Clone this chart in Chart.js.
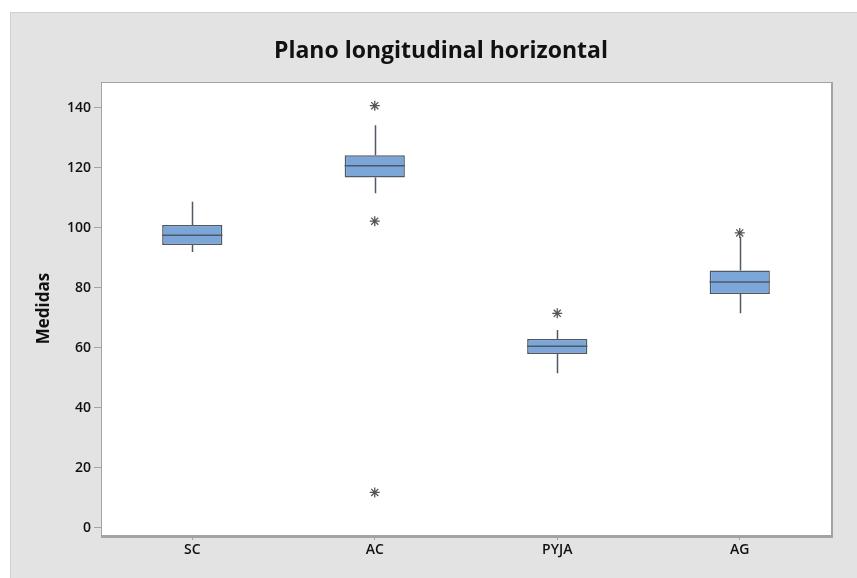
<!DOCTYPE html>
<html>
<head>
<meta charset="utf-8">
<script src="https://cdn.jsdelivr.net/npm/chart.js@4.4.1/dist/chart.umd.min.js"></script>
<style>
  body { margin: 0; background: #fff; }
  #wrap { position: absolute; left: 10px; top: 12px; width: 847px; height: 566px; }
</style>
</head>
<body>
<div id="wrap"><canvas id="boxChart" width="847" height="566"></canvas></div>
<script>
// datos
const categories = ['SC', 'AC', 'PYJA', 'AG'];
const q1 = [94.3, 116.8, 57.9, 77.9];
const median = [97.5, 120.7, 60.5, 81.9];
const q3 = [100.9, 124.2, 62.9, 85.8];
const whiskerLow = [91.9, 111.5, 51.5, 71.5];
const whiskerHigh = [108.7, 134.2, 65.9, 97.0];
const outlierCats = ['AC', 'AC', 'AC', 'PYJA', 'AG'];
const outlierValues = [140.7, 102.2, 11.8, 71.5, 98.3];
const yTicks = [0, 20, 40, 60, 80, 100, 120, 140];

const lineColor = '#4f5963';
const frameColor = '#a3a3a3';
const fuente = "'Open Sans', 'Noto Sans', sans-serif";

// fondo gris y marco del area de datos
const fondo = {
    id: 'fondo',
    beforeDraw(chart) {
        const ctx = chart.ctx;
        const a = chart.chartArea;
        ctx.save();
        ctx.fillStyle = '#e3e3e3';
        ctx.fillRect(0, 0, chart.width, chart.height);
        ctx.fillStyle = '#d0d0d0';
        ctx.fillRect(0, 0, chart.width, 1);
        ctx.fillRect(0, 0, 1, chart.height);
        ctx.fillStyle = '#ffffff';
        ctx.fillRect(a.left, a.top, a.right - a.left, a.bottom - a.top);
        ctx.strokeStyle = frameColor;
        ctx.lineWidth = 1;
        ctx.strokeRect(a.left + 0.5, a.top + 0.5, a.right - a.left, a.bottom - a.top);
        ctx.lineWidth = 2;
        ctx.beginPath();
        ctx.moveTo(a.right + 1, a.top);
        ctx.lineTo(a.right + 1, a.bottom + 2);
        ctx.lineTo(a.left, a.bottom + 2);
        ctx.stroke();
        ctx.restore();
    }
};

// bigotes (detras de la caja) y mediana (encima)
const bigotes = {
    id: 'bigotes',
    beforeDatasetsDraw(chart) {
        const ctx = chart.ctx;
        const x = chart.scales.x, y = chart.scales.y;
        ctx.save();
        ctx.strokeStyle = lineColor;
        ctx.lineWidth = 1.5;
        categories.forEach((c, i) => {
            const px = Math.round(x.getPixelForValue(i)) + 0.5;
            ctx.beginPath();
            ctx.moveTo(px, y.getPixelForValue(whiskerHigh[i]));
            ctx.lineTo(px, y.getPixelForValue(q3[i]));
            ctx.moveTo(px, y.getPixelForValue(q1[i]));
            ctx.lineTo(px, y.getPixelForValue(whiskerLow[i]));
            ctx.stroke();
        });
        ctx.restore();
    },
    afterDatasetsDraw(chart) {
        const ctx = chart.ctx;
        const y = chart.scales.y;
        const meta = chart.getDatasetMeta(0);
        ctx.save();
        ctx.strokeStyle = lineColor;
        ctx.lineWidth = 1.5;
        meta.data.forEach((bar, i) => {
            const py = y.getPixelForValue(median[i]);
            ctx.beginPath();
            ctx.moveTo(bar.x - bar.width / 2, py);
            ctx.lineTo(bar.x + bar.width / 2, py);
            ctx.stroke();
        });
        ctx.restore();
    }
};

const tickFont = { family: fuente, size: 14, weight: '600' };

new Chart(document.getElementById('boxChart'), {
    type: 'bar',
    data: {
        labels: categories,
        datasets: [{
            label: 'Caja',
            data: categories.map((c, i) => [q1[i], q3[i]]),
            backgroundColor: '#7ba6da',
            borderColor: lineColor,
            borderWidth: 1.5,
            borderSkipped: false,
            categoryPercentage: 1,
            barPercentage: 0.33,
            order: 2
        }, {
            type: 'line',
            label: 'Atipicos',
            data: outlierCats.map((c, i) => ({ x: c, y: outlierValues[i] })),
            showLine: false,
            pointStyle: 'star',
            pointRadius: 5,
            borderColor: '#555555',
            backgroundColor: '#555555',
            pointBorderWidth: 1.3,
            order: 1
        }]
    },
    options: {
        responsive: false,
        animation: false,
        layout: { padding: { left: 15, right: 0, top: 0, bottom: 0 } },
        plugins: {
            legend: { display: false },
            tooltip: { enabled: false },
            title: {
                display: true,
                text: 'Plano longitudinal horizontal',
                color: '#111',
                font: { family: fuente, size: 23, weight: 'bold' },
                padding: { top: 26, bottom: 16.4 }
            }
        },
        scales: {
            x: {
                offset: true,
                grid: { drawOnChartArea: false, drawTicks: true, tickLength: 5, color: frameColor, offset: false },
                border: { display: false },
                ticks: { color: '#111', font: tickFont, padding: 2 },
                afterFit: s => { s.height = 43; }
            },
            y: {
                min: -2.4,
                max: 148.6,
                grid: { drawOnChartArea: false, drawTicks: true, tickLength: 7, color: frameColor },
                border: { display: false },
                ticks: { color: '#111', font: tickFont, padding: 3 },
                afterBuildTicks: s => { s.ticks = yTicks.map(v => ({ value: v })); },
                title: {
                    display: true,
                    text: 'Medidas',
                    color: '#111',
                    font: { family: fuente, size: 17, weight: 'bold' },
                    padding: { top: 9, bottom: 0 }
                },
                afterFit: s => { s.width = 76; }
            },
            // eje vacio para dejar el margen derecho
            margen: {
                position: 'right',
                display: true,
                grid: { display: false },
                border: { display: false },
                ticks: { display: false },
                afterFit: s => { s.width = 26; }
            }
        }
    },
    plugins: [fondo, bigotes]
});
</script>
</body>
</html>
